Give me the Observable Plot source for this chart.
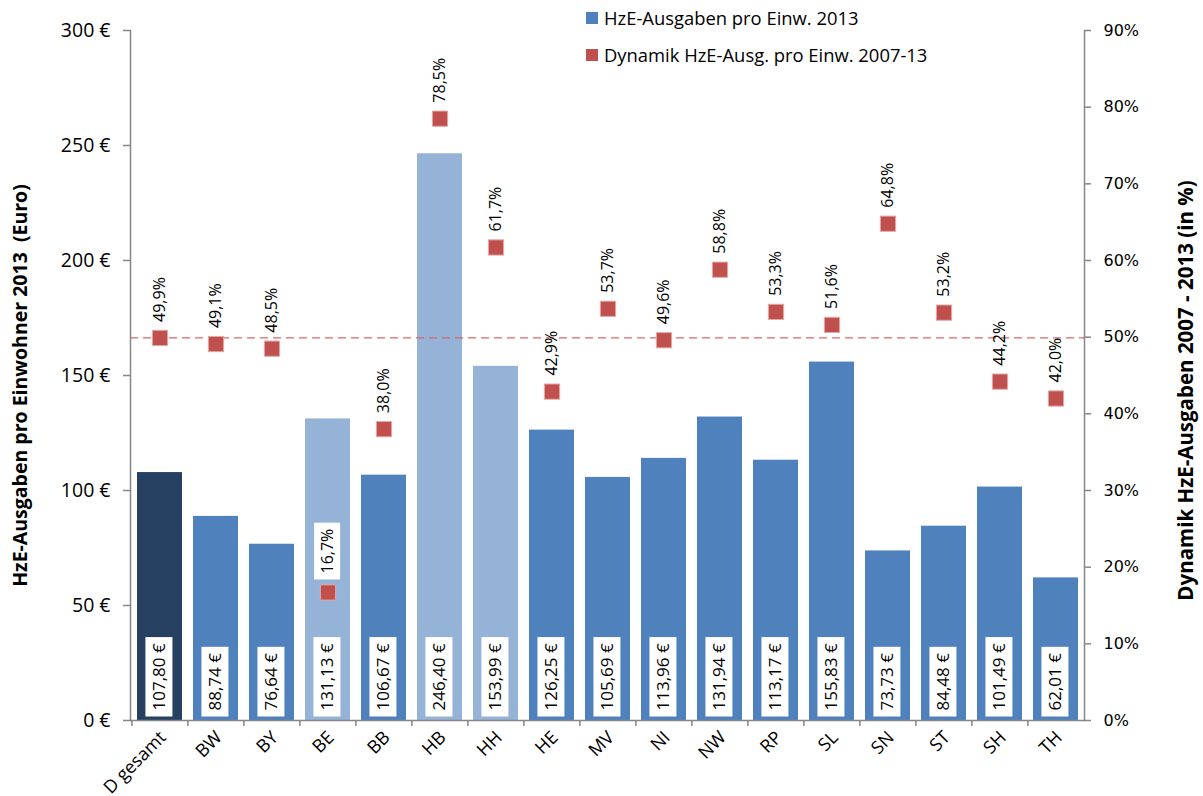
<!DOCTYPE html>
<html>
<head>
<meta charset="utf-8">
<script src="https://cdn.jsdelivr.net/npm/d3@7"></script>
<script src="https://cdn.jsdelivr.net/npm/@observablehq/plot@0.6"></script>
<style>
  body { margin: 0; background: #fff; }
  #wrap { position: relative; width: 1203px; height: 796px; }
  .leg { position: absolute; left: 586px; font-family: "Open Sans", sans-serif; font-size: 18.4px; color: #000; white-space: nowrap; display: flex; align-items: center; }
  .leg span.sw { display: inline-block; width: 12px; height: 12px; margin-right: 6px; }
</style>
</head>
<body>
<div id="wrap">
  <div class="leg" style="top:5px;"><span class="sw" style="background:#4F81BD"></span>HzE-Ausgaben pro Einw. 2013</div>
  <div class="leg" style="top:42px;"><span class="sw" style="background:#C0504D"></span>Dynamik HzE-Ausg. pro Einw. 2007-13</div>
</div>
<script>
// ---- data ----
const categories = ["D gesamt","BW","BY","BE","BB","HB","HH","HE","MV","NI","NW","RP","SL","SN","ST","SH","TH"];
const spending2013 = [107.80, 88.74, 76.64, 131.13, 106.67, 246.40, 153.99, 126.25, 105.69, 113.96, 131.94, 113.17, 155.83, 73.73, 84.48, 101.49, 62.01];
const growth0713 = [49.9, 49.1, 48.5, 16.7, 38.0, 78.5, 61.7, 42.9, 53.7, 49.6, 58.8, 53.3, 51.6, 64.8, 53.2, 44.2, 42.0];
const groups = ["Deutschland","Flächenland","Flächenland","Stadtstaat","Flächenland","Stadtstaat","Stadtstaat",
                "Flächenland","Flächenland","Flächenland","Flächenland","Flächenland","Flächenland","Flächenland",
                "Flächenland","Flächenland","Flächenland"];
const euroTicks = [0, 50, 100, 150, 200, 250, 300];
const pctTicks = [0, 10, 20, 30, 40, 50, 60, 70, 80, 90];
const leftTitle = "HzE-Ausgaben pro Einwohner 2013  (Euro)";
const rightTitle = "Dynamik HzE-Ausgaben 2007 - 2013 (in %)";

const euroMax = 300, pctMax = 90;
const k = euroMax / pctMax; // percent -> euro-scale

const data = categories.map((c, i) => ({cat: c, value: spending2013[i], pct: growth0713[i], group: groups[i]}));
const fmtEuro = v => v.toFixed(2).replace(".", ",") + " €";
const fmtPct = v => v.toFixed(1).replace(".", ",") + "%";

const W = 1203, H = 796, mL = 130, mR = 119, mT = 30, mB = 76;
const step = (W - mL - mR) / categories.length;
const axisColor = "#868686";
const font = "Open Sans";

const chart = Plot.plot({
  width: W, height: H,
  marginLeft: mL, marginRight: mR, marginTop: mT, marginBottom: mB,
  style: {fontFamily: font, background: "white", color: "#000", overflow: "visible"},
  x: {domain: categories, paddingInner: 0.2, paddingOuter: 0.1, axis: null},
  y: {domain: [0, euroMax], axis: null},
  color: {domain: ["Deutschland","Flächenland","Stadtstaat"], range: ["#254061","#4F81BD","#95B3D7"]},
  marks: [
    Plot.barY(data, {x: "cat", y: "value", fill: "group"}),
    Plot.ruleY([growth0713[0] * k], {stroke: "#D46A68", strokeDasharray: "8,5", strokeWidth: 1.3}),
    // axis lines
    Plot.frame({anchor: "left", stroke: axisColor, strokeWidth: 1.5}),
    Plot.frame({anchor: "right", stroke: axisColor, strokeWidth: 1.5}),
    Plot.frame({anchor: "bottom", stroke: axisColor, strokeWidth: 1.5}),
    // category boundary ticks
    Plot.ruleX(categories, {x: d => d, dx: -step / 2, y1: 0, y2: 0, insetBottom: -6, stroke: axisColor, strokeWidth: 1.5}),
    // left axis
    Plot.axisY(euroTicks, {anchor: "left", label: null, tickSize: 7, tickPadding: 13, tickFormat: d => d + " €",
      fontSize: 19.5, stroke: axisColor, fill: "#000", strokeWidth: 1.5}),
    // right axis
    Plot.axisY(pctTicks.map(p => p * k), {anchor: "right", label: null, tickSize: 6, tickPadding: 13,
      tickFormat: d => Math.round(d / k) + "%", fontSize: 16, fontFamily: "DejaVu Sans",
      stroke: axisColor, fill: "#000", strokeWidth: 1.5}),
    // category labels
    Plot.axisX({anchor: "bottom", label: null, tickSize: 0, tickPadding: 14, tickRotate: -45, fontSize: 18, fill: "#000", dx: 3}),
    // value labels (boxed)
    Plot.text(data, {x: "cat", y: 0, text: d => fmtEuro(d.value), rotate: -90, textAnchor: "start",
      dy: -10, fontSize: 17, fill: "#000", className: "boxed"}),
    // growth squares
    Plot.dot(data, {x: "cat", y: d => d.pct * k, symbol: "square", r: 8.6, fill: "#C0504D", stroke: "#E3A9A8", strokeWidth: 1}),
    // growth labels
    Plot.text(data.filter(d => d.pct * k >= d.value), {x: "cat", y: d => d.pct * k, text: d => fmtPct(d.pct),
      rotate: -90, textAnchor: "start", dy: -16, fontSize: 16, fill: "#000"}),
    Plot.text(data.filter(d => d.pct * k < d.value), {x: "cat", y: d => d.pct * k, text: d => fmtPct(d.pct),
      rotate: -90, textAnchor: "start", dy: -19, fontSize: 16, fill: "#000", className: "boxed"}),
    // axis titles
    Plot.text([leftTitle], {frameAnchor: "left", textAnchor: "middle", dx: -110, dy: 10, rotate: -90, fontSize: 19.5, fontWeight: "bold", fill: "#000"}),
    Plot.text([rightTitle], {frameAnchor: "right", textAnchor: "middle", dx: 102, dy: 15, rotate: -90, fontSize: 20.5, fontWeight: "bold", fill: "#000"})
  ]
});

const wrap = document.getElementById("wrap");
chart.style.position = "absolute";
chart.style.left = "0px";
chart.style.top = "0px";
wrap.insertBefore(chart, wrap.firstChild);

// white boxes behind boxed labels
const ns = "http://www.w3.org/2000/svg";
chart.querySelectorAll("g.boxed text").forEach(t => {
  const b = t.getBBox();
  const r = document.createElementNS(ns, "rect");
  r.setAttribute("x", b.x - 6);
  r.setAttribute("y", b.y - 2);
  r.setAttribute("width", b.width + 12);
  r.setAttribute("height", b.height + 4);
  r.setAttribute("fill", "white");
  const tr = t.getAttribute("transform");
  if (tr) r.setAttribute("transform", tr);
  t.parentNode.insertBefore(r, t);
});
// legend above svg
wrap.querySelectorAll(".leg").forEach(l => wrap.appendChild(l));
</script>
</body>
</html>
